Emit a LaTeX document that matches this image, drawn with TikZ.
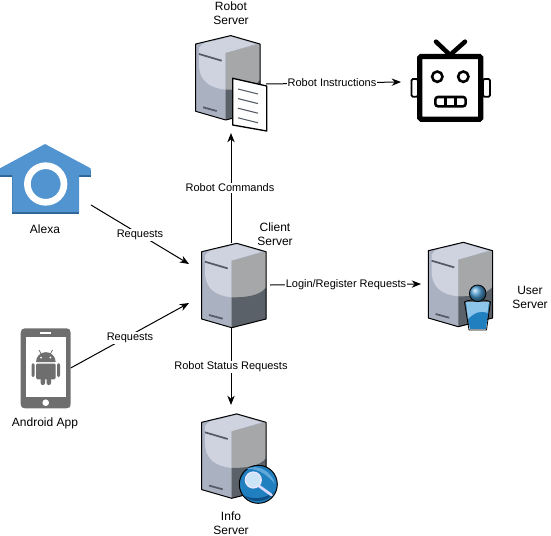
\documentclass[tikz,border=0pt]{standalone}
\usepackage{fontspec}
\setmainfont{Liberation Sans}
\usetikzlibrary{arrows.meta}
\definecolor{lface}{HTML}{AAB1C0}
\definecolor{lhigh}{HTML}{CFD3DF}
\definecolor{rface}{HTML}{A5A7A9}
\definecolor{rdark}{HTML}{5B6168}
\definecolor{slot}{HTML}{555B66}
\definecolor{house}{HTML}{5294CF}
\definecolor{housedk}{HTML}{2F6497}
\definecolor{phone}{HTML}{6E6E6E}
\definecolor{blueA}{HTML}{1F7FBF}
\definecolor{blueB}{HTML}{8CC4EA}
\definecolor{blueC}{HTML}{0F4F85}
\tikzset{
  lbl/.style={font=\fontsize{9pt}{10.5pt}\selectfont,align=center,inner sep=0.5pt,text=black},
  onl/.style={font=\fontsize{8.25pt}{10pt}\selectfont,inner sep=0.5pt,text=black,fill=white},
  conn/.style={draw=black,line width=0.75pt,-{Stealth[length=7pt,width=5.5pt]}},
  hit/.style={inner sep=0,outer sep=0,minimum width=#1},
  srv/.pic={
    \fill[lface] (0,0) -- (35,-8.4) -- (64.3,0) -- (64.3,67.3) -- (30,76) -- (0,67.3) -- cycle;
    \fill[lhigh] (3.3,4) .. controls (6,-1) and (12,-3) .. (18,-3) -- (35,-7.5) -- (60,0) -- (30,9) -- (30,45.7) .. controls (15,44) and (3.3,38) .. (3.3,20) -- cycle;
    \fill[rface] (30,9) -- (64.3,0) -- (64.3,67.3) -- (30,76) -- cycle;
    \fill[rdark] (30,45.7) .. controls (45,45.7) and (58,44) .. (64.3,36) -- (64.3,67.3) -- (30,76) -- cycle;
    \draw[slot,line width=1.3pt] (3.3,10) -- (26,16.7);
    \draw[slot,line width=1.3pt] (7.3,63.3) -- (21,67);
    \draw[black,line width=0.75pt,line join=round] (0,0) -- (35,-8.4) -- (64.3,0) -- (64.3,67.3) -- (30,76) -- (0,67.3) -- cycle;
  }
}
\begin{document}
\begin{tikzpicture}[x=0.75pt,y=-0.75pt]
\useasboundingbox (0,0) rectangle (551,536);
% hit boxes
\path
  (231,285) node[hit=58.5pt,minimum height=63pt] (client) {}
  (231,84) node[hit=52.5pt,minimum height=73.5pt] (robotsrv) {}
  (231,470) node[hit=45pt,minimum height=97.5pt] (infosrv) {}
  (445.5,284) node[hit=36.75pt,minimum height=50pt] (usersrv) {}
  (45.5,174) node[hit=68.25pt,minimum height=46.5pt] (alexa) {}
  (45.7,368) node[hit=37.5pt,minimum height=60pt] (android) {}
  (451,82) node[hit=75pt,minimum height=50pt] (robot) {};
% connectors
\draw[conn] (alexa.south east) -- ([xshift=-2.25pt,yshift=15.75pt]client.west);
\draw[conn] (android.east) -- ([xshift=-2.25pt,yshift=-13.5pt]client.west);
\draw[conn] (client.north) -- (robotsrv.south);
\draw[conn] (robotsrv.east) -- (robot.west);
\draw[conn] (client.east) -- (usersrv.west);
\draw[conn] (client.south) -- (infosrv.north);
% servers
\pic at (195.7,44) {srv};
\pic at (201.7,251.7) {srv};
\pic at (428.3,250.7) {srv};
\pic at (201.7,422.3) {srv};
% document
\draw[black,fill=white,line width=1pt,line join=round] (232.7,78.3) -- (266.7,86) -- (266.7,131) -- (232.7,125) -- cycle;
\foreach \y in {0,1,2,3}
  \draw[slot,line width=0.8pt] (238,{89+\y*9.6}) -- (258,{94+\y*9.6});
% person
\fill[blueA] (465.5,302) -- (489.5,302) -- (486,329) -- (469.8,329) -- cycle;
\fill[blueB] (466,302) -- (489,302) -- (487.5,313) .. controls (480,310) and (474,313) .. (468,319) -- cycle;
\draw[black,line width=0.6pt,line join=round] (464.5,302) .. controls (468,299) and (487,299) .. (490.5,302) -- (486.5,330) -- (469,330) -- cycle;
\shade[ball color=blueB!40!blueA,draw=black,line width=0.6pt] (477.7,293.3) circle (8.3);
% magnifier
\fill[blueA,draw=black,line width=0.75pt] (258.3,484.3) circle (19);
\fill[blueB!60!blueA] (246,469) .. controls (258,463) and (272,472) .. (275,484) .. controls (265,472) and (255,468) .. (246,469) -- cycle;
\fill[blueC] (243,495) .. controls (250,503) and (268,504) .. (274,492) .. controls (265,499) and (252,500) .. (243,495) -- cycle;
\draw[white!85!blue,line width=2pt,line cap=round] (259,486) -- (271.5,495);
\fill[blueB!45!white,draw=white!90!blue,line width=1.2pt] (253.3,480) circle (7.8);
% alexa
\fill[housedk] (0,170) rectangle (12.3,177.3);
\fill[housedk] (79,170) rectangle (90.7,177.3);
\fill[housedk] (12.3,170) rectangle (79,214);
\fill[house] (45,144) -- (90.7,168.3) -- (90.7,175) -- (79,175) -- (79,212) -- (12.3,212) -- (12.3,175) -- (0,175) -- (0,168.3) -- cycle;
\draw[white,line width=5pt] (45.7,184) circle (18.3);
% android
\fill[phone] (20.7,333) .. controls (20.7,330) and (22,328.3) .. (25,328.3) -- (66.5,328.3) .. controls (69.5,328.3) and (70.7,330) .. (70.7,333) -- (70.7,404) .. controls (70.7,407) and (69.5,408.3) .. (66.5,408.3) -- (25,408.3) .. controls (22,408.3) and (20.7,407) .. (20.7,404) -- cycle;
\fill[white] (26,336.7) rectangle (65.7,396.7);
\fill[white] (40,331.5) rectangle (51,333.5);
\fill[white] (45.7,402.7) circle (3.3);
\fill[phone] (36,362) arc[start angle=180,end angle=360,radius=9.85] -- cycle;
\draw[phone,line width=0.6pt] (39,350) -- (41.5,354.5) (52.5,350) -- (50,354.5);
\fill[white] (41,357.5) circle (1) (50.4,357.5) circle (1);
\fill[phone,rounded corners=1pt] (36,363.5) rectangle (55.7,379.3);
\fill[phone,rounded corners=1.5pt] (40.7,375) rectangle (45,385);
\fill[phone,rounded corners=1.5pt] (46.7,375) rectangle (51,385);
\fill[phone,rounded corners=1.5pt] (31.5,363.3) rectangle (34.7,377);
\fill[phone,rounded corners=1.5pt] (57,363.3) rectangle (60.2,377);
% robot
\draw[black,line width=3.4pt,line cap=round,line join=round] (436,41.7) -- (450,55) -- (465,41.7);
\draw[black,line width=1.4pt,fill=white,rounded corners=1pt] (411.5,79) rectangle (418,96.7);
\draw[black,line width=1.4pt,fill=white,rounded corners=1pt] (483,79) rectangle (490,96.7);
\draw[black,line width=3.9pt,fill=white,rounded corners=1pt] (419.8,56.5) rectangle (480.8,119.2);
\draw[black,line width=1.9pt] (437.3,76.7) circle (5.2) (463.3,76.7) circle (5.2);
\draw[black,line width=1.9pt,rounded corners=2pt] (435.3,97) rectangle (465.7,106.3);
\draw[black,line width=1.9pt] (445.5,97) -- (445.5,106.3) (455.5,97) -- (455.5,106.3);
% labels
\node[lbl] (tR) at (231,13) {Robot\\Server};
\node[onl] (tRI) at (332,83) {Robot Instructions};
\node[lbl] (tA) at (45,229) {Alexa};
\node[onl] (tRq1) at (140,235) {Requests};
\node[onl] (tRq2) at (130,338) {Requests};
\node[lbl] (tC) at (275,234) {Client\\Server};
\node[onl] (tRC) at (230,188) {Robot Commands};
\node[onl] (tLR) at (346,285) {Login/Register Requests};
\node[lbl] (tU) at (530,297) {User\\Server};
\node[onl] (tRS) at (231,367) {Robot Status Requests};
\node[lbl] (tAA) at (45,423) {Android App};
\node[lbl] (tI) at (231,523) {Info\\Server};
\end{tikzpicture}
\end{document}
